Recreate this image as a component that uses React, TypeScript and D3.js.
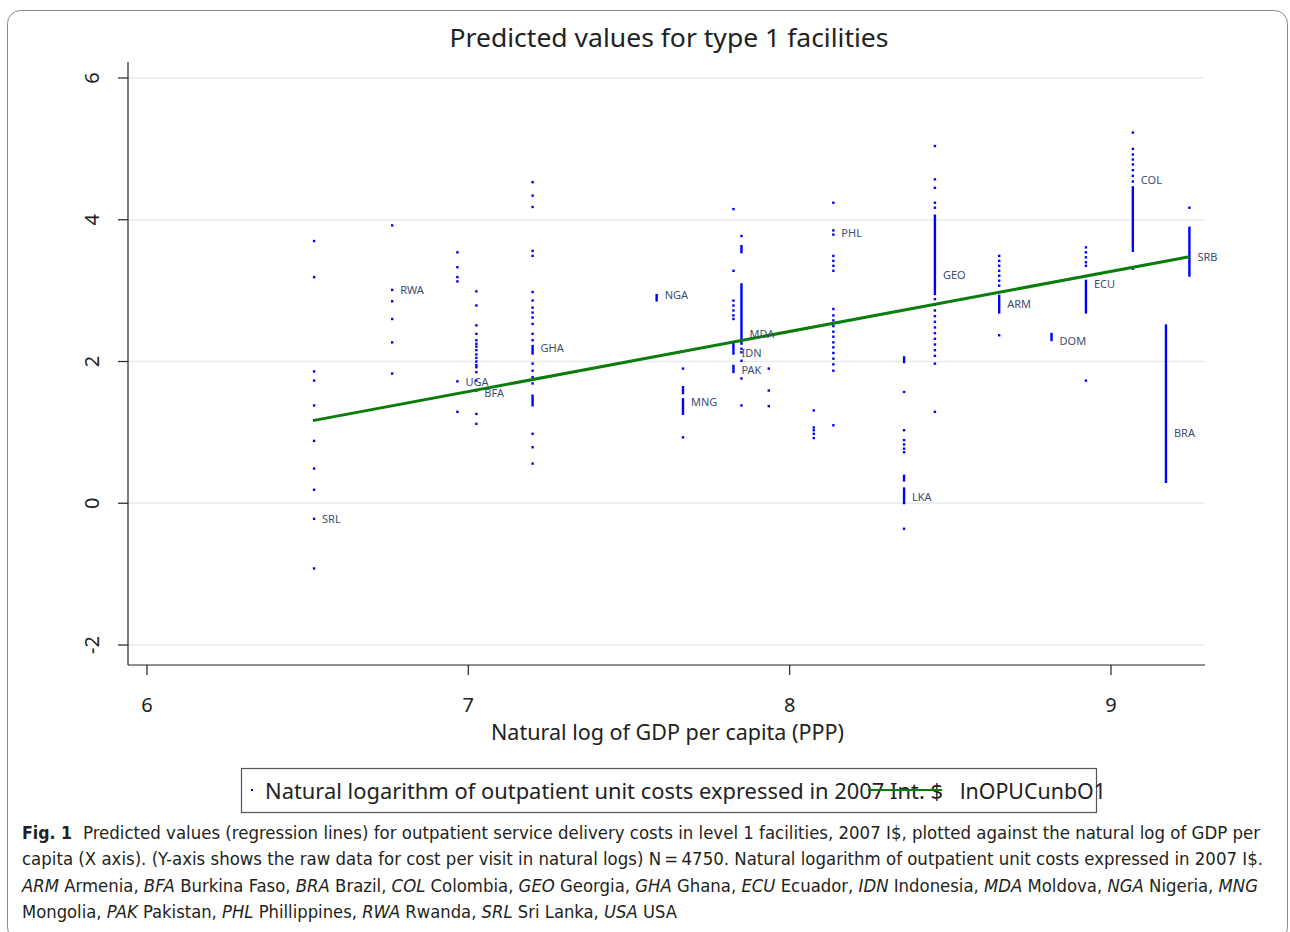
import React from "react";
import * as d3 from "d3";

// ---- data ----
const xTicks = [6, 7, 8, 9];
const yTicks = [-2, 0, 2, 4, 6];

const countryCodes = ["SRL", "RWA", "UGA", "BFA", "GHA", "NGA", "MNG", "IDN", "PAK", "MDA", "", "", "PHL", "LKA", "GEO", "ARM", "DOM", "ECU", "COL", "BRA", "SRB"];
const lnGdp = [6.52, 6.763, 6.966, 7.025, 7.2, 7.586, 7.668, 7.825, 7.825, 7.85, 7.935, 8.075, 8.136, 8.356, 8.452, 8.652, 8.815, 8.922, 9.068, 9.171, 9.244];
const labelAt = [-0.24, 2.99, 1.7, 1.54, 2.17, 2.92, 1.41, 2.11, 1.87, 2.38, 0, 0, 3.8, 0.08, 3.21, 2.79, 2.28, 3.08, 4.54, 0.97, 3.46];

const costValues: number[][] = [
  [3.7, 3.19, 1.86, 1.73, 1.38, 1.17, 0.88, 0.49, 0.19, -0.22, -0.92],
  [3.92, 3.01, 2.85, 2.6, 2.27, 1.83],
  [3.54, 3.33, 3.19, 3.13, 1.72, 1.29],
  [2.99, 2.79, 2.51, 2.39, 2.3, 2.25, 2.21, 2.16, 2.1, 2.05, 2.0, 1.95, 1.92, 1.85, 1.73, 1.59, 1.26, 1.12],
  [4.53, 4.34, 4.18, 3.56, 3.49, 2.98, 2.86, 2.76, 2.69, 2.62, 2.53, 2.39, 2.3, 1.97, 1.87, 1.78, 1.69, 0.98, 0.79, 0.56],
  [],
  [1.9, 0.93],
  [4.15, 3.28, 2.86, 2.79, 2.72, 2.65, 2.6],
  [],
  [3.77, 2.18, 2.13, 2.01, 1.76, 1.38],
  [1.9, 1.59, 1.37],
  [1.31, 1.07, 1.03, 0.98, 0.92],
  [4.24, 3.85, 3.79, 3.49, 3.42, 3.35, 3.28, 2.74, 2.65, 2.58, 2.5, 2.42, 2.35, 2.27, 2.2, 2.12, 2.04, 1.96, 1.87, 1.1],
  [1.57, 1.03, 0.89, 0.83, 0.77, 0.72, -0.36],
  [5.04, 4.57, 4.45, 4.24, 4.17, 2.88, 2.8, 2.72, 2.64, 2.56, 2.48, 2.4, 2.32, 2.24, 2.16, 2.08, 1.97, 1.29],
  [3.49, 3.42, 3.35, 3.28, 3.21, 3.14, 3.07, 2.37],
  [],
  [3.61, 3.54, 3.47, 3.4, 3.35, 1.73],
  [5.23, 5.0, 4.92, 4.85, 4.78, 4.7, 4.62, 4.54, 3.31],
  [],
  [4.17],
];

// dense runs of observations that print as a solid stroke: [low, high]
const costRuns: [number, number][][] = [
  [], [], [], [],
  [[2.11, 2.22], [1.38, 1.52]],
  [[2.86, 2.94]],
  [[1.55, 1.64], [1.26, 1.47]],
  [[2.11, 2.25]],
  [[1.85, 1.94]],
  [[3.54, 3.63], [2.25, 3.09]],
  [], [], [],
  [[1.99, 2.06], [0.32, 0.39], [0.0, 0.21]],
  [[2.95, 4.06]],
  [[2.69, 2.93]],
  [[2.3, 2.39]],
  [[2.69, 3.14]],
  [[3.56, 4.46]],
  [[0.3, 2.51]],
  [[3.21, 3.89]],
];

const fitIntercept = -4.36;
const fitSlope = 0.848;

const title = "Predicted values for type 1 facilities";
const xTitle = "Natural log of GDP per capita (PPP)";
const legendScatter = "Natural logarithm of outpatient unit costs expressed in 2007 Int. $";
const legendLine = "lnOPUCunbO1";

const sans = "'Noto Sans', 'Open Sans', 'DejaVu Sans', sans-serif";
const narrow = "'Liberation Sans Narrow', 'DejaVu Sans Condensed', 'Liberation Sans', sans-serif";

export default function App() {
  const x = d3.scaleLinear().domain([6, 9]).range([147, 1111]);
  const y = d3.scaleLinear().domain([-2, 6]).range([645, 78]);
  const left = 128, right = 1205, top = 62, bottom = 665;

  const xMin = d3.min(lnGdp) as number;
  const xMax = d3.max(lnGdp) as number;
  const fitLine = d3.line<number>().x((d) => x(d)).y((d) => y(fitIntercept + fitSlope * d));

  const blue = "#0000ff";

  return (
    <div style={{ position: "absolute", left: 0, top: 0 }}>
      <svg width={1290} height={932} style={{ display: "block", background: "#fff" }}>
        <rect x={7.5} y={10.5} width={1280} height={930} rx={13} fill="#fff" stroke="#8a8a8a" strokeWidth={1} />

        <text x={669} y={47} textAnchor="middle" fontFamily={sans} fontSize={25} fill="#222" textLength={439} lengthAdjust="spacingAndGlyphs">{title}</text>

        {/* gridlines */}
        {yTicks.map((t) => (
          <line key={"g" + t} x1={left} x2={right} y1={y(t)} y2={y(t)} stroke="#e6ecef" strokeWidth={1.5} />
        ))}

        {/* axes */}
        <line x1={left} x2={left} y1={top} y2={bottom} stroke="#222" strokeWidth={1.2} />
        <line x1={left} x2={right} y1={bottom} y2={bottom} stroke="#222" strokeWidth={1.2} />
        {yTicks.map((t) => (
          <g key={"y" + t}>
            <line x1={left - 10} x2={left} y1={y(t)} y2={y(t)} stroke="#222" strokeWidth={1.2} />
            <text transform={`translate(${99},${y(t)}) rotate(-90)`} textAnchor="middle" fontFamily={sans} fontSize={20} fill="#222">{t}</text>
          </g>
        ))}
        {xTicks.map((t) => (
          <g key={"x" + t}>
            <line x1={x(t)} x2={x(t)} y1={bottom} y2={bottom + 10} stroke="#222" strokeWidth={1.2} />
            <text x={x(t)} y={712} textAnchor="middle" fontFamily={sans} fontSize={20} fill="#222">{t}</text>
          </g>
        ))}
        <text x={667.5} y={740} textAnchor="middle" fontFamily={sans} fontSize={21} fill="#222" textLength={353} lengthAdjust="spacingAndGlyphs">{xTitle}</text>

        {/* observations */}
        {countryCodes.map((code, i) => (
          <g key={"c" + i}>
            {costValues[i].map((v, j) => (
              <rect key={j} x={x(lnGdp[i]) - 1.2} y={y(v) - 1.2} width={2.4} height={2.4} fill={blue} />
            ))}
            {costRuns[i].map((r, j) => (
              <line key={"r" + j} x1={x(lnGdp[i])} x2={x(lnGdp[i])} y1={y(r[0]) + 1} y2={y(r[1]) - 1} stroke={blue} strokeWidth={2.4} />
            ))}
          </g>
        ))}

        {/* fitted line */}
        <path d={fitLine([xMin, xMax]) || ""} fill="none" stroke="#0c7c0c" strokeWidth={3} />

        {/* marker labels */}
        {countryCodes.map((code, i) =>
          code ? (
            <text key={"l" + i} x={x(lnGdp[i]) + 8} y={y(labelAt[i])} dominantBaseline="middle" fontFamily={sans} fontSize={11} fill="#3d4d6d">{code}</text>
          ) : null
        )}

        {/* legend */}
        <rect x={241.5} y={768.5} width={855} height={44} fill="none" stroke="#555" strokeWidth={1.2} />
        <rect x={251} y={789} width={2} height={2} fill={blue} />
        <text x={265} y={799} fontFamily={sans} fontSize={21} fill="#222" textLength={678} lengthAdjust="spacingAndGlyphs">{legendScatter}</text>
        <line x1={868} x2={942} y1={790} y2={790} stroke="#0c7c0c" strokeWidth={2} />
        <text x={960} y={799} fontFamily={sans} fontSize={21} fill="#222" textLength={146} lengthAdjust="spacingAndGlyphs">{legendLine}</text>

        {/* caption */}
        <g fontFamily={narrow} fontSize={18} fill="#231f20">
          <text x={22} y={839} fontWeight="bold" textLength={50} lengthAdjust="spacingAndGlyphs">Fig. 1</text>
          <text x={83} y={839} textLength={1177} lengthAdjust="spacingAndGlyphs">Predicted values (regression lines) for outpatient service delivery costs in level 1 facilities, 2007 I$, plotted against the natural log of GDP per</text>
          <text x={22} y={865} textLength={1241} lengthAdjust="spacingAndGlyphs">capita (X axis). (Y-axis shows the raw data for cost per visit in natural logs) N{"\u2009"}={"\u2009"}4750. Natural logarithm of outpatient unit costs expressed in 2007 I$.</text>
          <text x={22} y={892} textLength={1236} lengthAdjust="spacingAndGlyphs">
            <tspan fontStyle="italic">ARM</tspan> Armenia, <tspan fontStyle="italic">BFA</tspan> Burkina Faso, <tspan fontStyle="italic">BRA</tspan> Brazil, <tspan fontStyle="italic">COL</tspan> Colombia, <tspan fontStyle="italic">GEO</tspan> Georgia, <tspan fontStyle="italic">GHA</tspan> Ghana, <tspan fontStyle="italic">ECU</tspan> Ecuador, <tspan fontStyle="italic">IDN</tspan> Indonesia, <tspan fontStyle="italic">MDA</tspan> Moldova, <tspan fontStyle="italic">NGA</tspan> Nigeria, <tspan fontStyle="italic">MNG</tspan>
          </text>
          <text x={22} y={918} textLength={655} lengthAdjust="spacingAndGlyphs">
            Mongolia, <tspan fontStyle="italic">PAK</tspan> Pakistan, <tspan fontStyle="italic">PHL</tspan> Phillippines, <tspan fontStyle="italic">RWA</tspan> Rwanda, <tspan fontStyle="italic">SRL</tspan> Sri Lanka, <tspan fontStyle="italic">USA</tspan> USA
          </text>
        </g>
      </svg>
    </div>
  );
}
